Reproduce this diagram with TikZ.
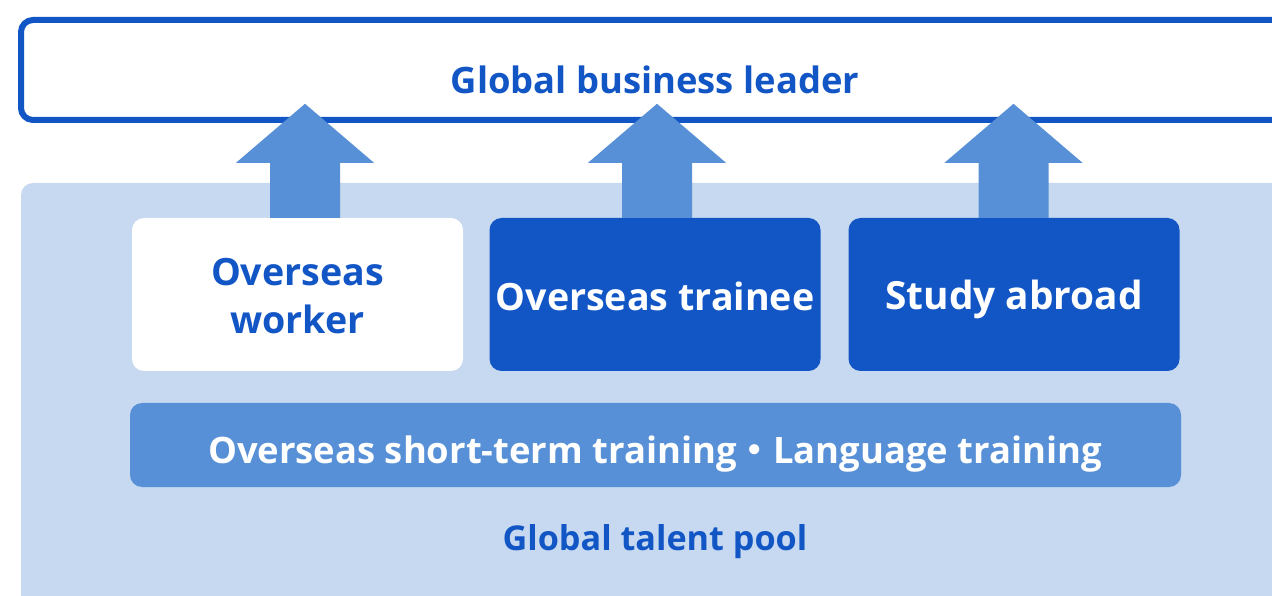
\documentclass[tikz,border=0pt]{standalone}
\usepackage{fontspec}
\setmainfont{Open Sans}
\newfontfamily\cjk{Noto Sans CJK JP}
\usetikzlibrary{calc}
\definecolor{darkb}{HTML}{1256C6}
\definecolor{midb}{HTML}{5790D6}
\definecolor{lightb}{HTML}{C6D9F0}
\tikzset{
  x=1pt,y=1pt,
  box/.style={rounded corners=12pt,minimum width=331pt,minimum height=153pt,inner sep=0pt},
  darkbox/.style={box,fill=darkb},
  whitebox/.style={box,fill=white},
  lbl/.style={inner sep=0pt,align=center,font=\bfseries\fontsize{#1}{48}\selectfont},
  uparrow/.style={fill=midb},
}
\begin{document}
\begin{tikzpicture}
\useasboundingbox (0,0) rectangle (1272,595);
\clip (0,0) rectangle (1272,595);
% top box
\draw[darkb,line width=6pt,rounded corners=12pt] (21,575) rectangle (1300,475);
\node[lbl=36.4,text=darkb] (top) at (655,515) {Global business leader};
% pool background
\fill[lightb,rounded corners=12pt] (21,412) rectangle (1300,-30);
% boxes
\node[whitebox] (w) at (297.5,300.5) {};
\node[darkbox] (t) at (655,300.5) {};
\node[darkbox] (s) at (1014,300.5) {};
\node[lbl=37.6,text=darkb] (wl) at (297.5,299) {Overseas\\worker};
\node[lbl=37.6,text=white] (tl) at (655,299) {Overseas trainee};
\node[lbl=38.8,text=white] (sl) at (1014,296) {Study abroad};
% arrows
\foreach \b/\dx in {w/7.5,t/2,s/-0.5}{
  \fill[uparrow] ($(\b.north)+(\dx-35,0)$) -- ++(0,55) -- ++(-34,0) -- ($(\b.north)+(\dx,114)$)
     -- ($(\b.north)+(\dx+69,55)$) -- ++(-34,0) -- ($(\b.north)+(\dx+35,0)$) -- cycle;
}
% bar
\node[fill=midb,rounded corners=12pt,minimum width=1051pt,minimum height=84pt,inner sep=0pt] (bar) at (655.5,150) {};
\node[lbl=36.4,text=white] (barl) at (655,141) {Overseas short-term training{\cjk ・}Language training};
\node[lbl=34.2,text=darkb] (pool) at (655,53) {Global talent pool};
\end{tikzpicture}
\end{document}
